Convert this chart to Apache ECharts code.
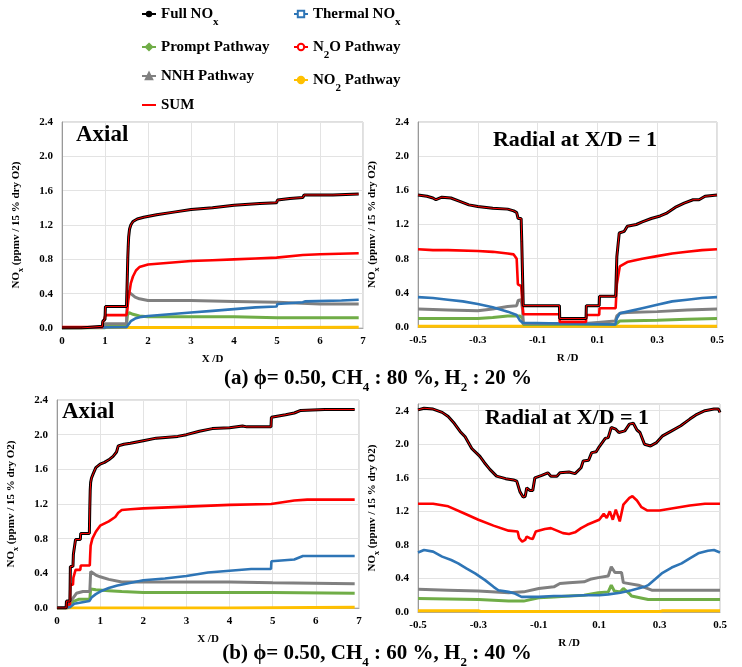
<!DOCTYPE html>
<html><head><meta charset="utf-8">
<script src="https://cdn.jsdelivr.net/npm/echarts@6/dist/echarts.min.js"></script>
<style>html,body{margin:0;padding:0;background:#fff}#c{width:742px;height:667px}</style>
</head><body><div id="c"></div>
<script>
// ---------- Data ----------
const seriesNames = ['Full NOx','Thermal NOx','Prompt Pathway','N2O Pathway','NNH Pathway','NO2 Pathway','SUM'];
const axialTicks = [0,1,2,3,4,5,6,7];
const radialTicks = [-0.5,-0.3,-0.1,0.1,0.3,0.5];
const yTicks = [0,0.4,0.8,1.2,1.6,2.0,2.4];

// (a) Axial
const fullA = [[0,0],[0.45,0],[0.46,0.02],[0.94,0.02],[0.95,0.08],[0.98,0.1],[1.0,0.1],[1.01,0.25],[1.5,0.25],[1.52,0.62],[1.53,0.82],[1.54,0.95],[1.55,1.06],[1.57,1.15],[1.6,1.2],[1.65,1.24],[1.75,1.27],[1.9,1.29],[2.2,1.32],[2.6,1.35],[3.0,1.38],[3.5,1.4],[4.0,1.43],[4.6,1.45],[4.99,1.46],[5.01,1.49],[5.3,1.51],[5.6,1.52],[5.63,1.55],[6.3,1.55],[6.9,1.56]];
const n2oA = [[0,0.01],[0.94,0.01],[0.95,0.06],[0.98,0.1],[1.0,0.1],[1.01,0.15],[1.5,0.15],[1.52,0.22],[1.54,0.32],[1.57,0.42],[1.6,0.52],[1.65,0.6],[1.72,0.67],[1.8,0.71],[2.0,0.74],[2.5,0.76],[3.0,0.78],[3.5,0.79],[4.0,0.8],[4.5,0.81],[4.99,0.82],[5.01,0.83],[5.6,0.85],[6.0,0.86],[6.9,0.87]];
const thermalA = [[0,0],[1.5,0.01],[1.52,0.03],[1.6,0.08],[1.7,0.11],[1.85,0.13],[2.0,0.14],[2.5,0.16],[3.0,0.18],[3.5,0.2],[4.0,0.22],[4.5,0.24],[4.99,0.25],[5.01,0.28],[5.6,0.3],[5.65,0.31],[6.5,0.32],[6.9,0.33]];
const promptA = [[0,0],[1.0,0],[1.01,0.03],[1.5,0.03],[1.52,0.15],[1.56,0.18],[1.65,0.16],[1.8,0.14],[2.0,0.13],[3.0,0.13],[4.0,0.13],[5.0,0.12],[6.9,0.12]];
const nnhA = [[0,0],[1.0,0.01],[1.01,0.05],[1.5,0.05],[1.52,0.43],[1.6,0.4],[1.7,0.36],[1.8,0.34],[2.0,0.32],[3.0,0.32],[4.0,0.31],[5.0,0.3],[6.0,0.28],[6.9,0.28]];
const no2A = [[0,0.005],[1.5,0.005],[3,0.006],[5,0.007],[6.9,0.008]];
const sumA = fullA;

// (a) Radial at X/D = 1
const fullAR = [[-0.5,1.545],[-0.47,1.53],[-0.45,1.51],[-0.44,1.49],[-0.42,1.52],[-0.39,1.51],[-0.36,1.47],[-0.33,1.43],[-0.3,1.41],[-0.25,1.39],[-0.2,1.38],[-0.18,1.36],[-0.17,1.34],[-0.165,1.27],[-0.155,1.27],[-0.153,1.0],[-0.149,1.0],[-0.148,0.25],[-0.027,0.25],[-0.026,0.1],[0.062,0.1],[0.063,0.25],[0.106,0.25],[0.107,0.36],[0.161,0.36],[0.165,0.82],[0.17,0.82],[0.173,1.1],[0.19,1.12],[0.2,1.18],[0.23,1.2],[0.25,1.23],[0.28,1.27],[0.31,1.3],[0.33,1.33],[0.36,1.4],[0.39,1.45],[0.42,1.49],[0.44,1.49],[0.46,1.53],[0.5,1.545]];
const n2oAR = [[-0.5,0.91],[-0.45,0.9],[-0.4,0.9],[-0.3,0.89],[-0.25,0.88],[-0.2,0.86],[-0.18,0.85],[-0.17,0.8],[-0.166,0.5],[-0.155,0.48],[-0.149,0.48],[-0.148,0.15],[-0.027,0.15],[-0.026,0.06],[0.062,0.06],[0.063,0.14],[0.106,0.14],[0.107,0.22],[0.161,0.22],[0.165,0.5],[0.17,0.5],[0.175,0.71],[0.2,0.76],[0.25,0.8],[0.3,0.83],[0.35,0.86],[0.4,0.88],[0.45,0.9],[0.5,0.91]];
const thermalAR = [[-0.5,0.35],[-0.45,0.34],[-0.4,0.32],[-0.35,0.3],[-0.3,0.27],[-0.25,0.23],[-0.2,0.18],[-0.17,0.14],[-0.16,0.08],[-0.15,0.05],[-0.148,0.03],[0.16,0.03],[0.165,0.1],[0.175,0.16],[0.2,0.18],[0.25,0.22],[0.3,0.26],[0.35,0.3],[0.4,0.32],[0.45,0.34],[0.5,0.35]];
const nnhAR = [[-0.5,0.21],[-0.4,0.2],[-0.3,0.19],[-0.25,0.21],[-0.2,0.24],[-0.17,0.25],[-0.165,0.31],[-0.155,0.32],[-0.15,0.2],[-0.148,0.04],[0.06,0.04],[0.063,0.06],[0.16,0.07],[0.165,0.13],[0.175,0.16],[0.2,0.17],[0.3,0.18],[0.4,0.2],[0.5,0.21]];
const promptAR = [[-0.5,0.1],[-0.3,0.1],[-0.25,0.11],[-0.2,0.13],[-0.16,0.13],[-0.15,0.1],[-0.148,0.03],[0.16,0.03],[0.165,0.05],[0.175,0.07],[0.3,0.08],[0.4,0.09],[0.5,0.1]];
const no2AR = [[-0.5,0.01],[0,0.01],[0.5,0.01]];
const sumAR = fullAR;

// (b) Axial
const fullB = [[0,0],[0.21,0],[0.22,0.08],[0.3,0.08],[0.31,0.48],[0.37,0.48],[0.38,0.62],[0.42,0.62],[0.43,0.79],[0.54,0.79],[0.55,0.86],[0.75,0.86],[0.76,1.15],[0.77,1.36],[0.78,1.45],[0.8,1.5],[0.84,1.55],[0.9,1.62],[1.0,1.66],[1.1,1.68],[1.2,1.71],[1.3,1.75],[1.38,1.8],[1.42,1.87],[1.55,1.89],[1.7,1.9],[2.0,1.93],[2.3,1.96],[2.8,1.98],[3.0,2.0],[3.3,2.04],[3.6,2.07],[4.0,2.08],[4.3,2.1],[4.4,2.09],[4.96,2.09],[4.97,2.2],[5.3,2.23],[5.5,2.25],[5.65,2.28],[6.2,2.29],[6.9,2.29]];
const n2oB = [[0,0],[0.22,0],[0.23,0.04],[0.3,0.04],[0.31,0.27],[0.37,0.27],[0.38,0.35],[0.42,0.35],[0.43,0.44],[0.54,0.44],[0.55,0.49],[0.76,0.49],[0.77,0.62],[0.78,0.72],[0.82,0.8],[0.9,0.88],[1.0,0.95],[1.2,1.0],[1.35,1.05],[1.42,1.1],[1.5,1.13],[1.7,1.14],[2.0,1.15],[3.0,1.17],[4.0,1.19],[4.96,1.2],[5.0,1.22],[5.5,1.24],[5.8,1.25],[6.9,1.25]];
const thermalB = [[0,0],[0.3,0.01],[0.4,0.05],[0.75,0.08],[0.8,0.12],[0.9,0.16],[1.0,0.19],[1.2,0.23],[1.4,0.26],[1.6,0.28],[2.0,0.32],[2.5,0.34],[3.0,0.37],[3.5,0.41],[4.0,0.43],[4.5,0.45],[4.96,0.45],[4.97,0.54],[5.5,0.56],[5.7,0.6],[6.9,0.6]];
const nnhB = [[0,0],[0.22,0],[0.25,0.05],[0.35,0.1],[0.45,0.17],[0.6,0.19],[0.76,0.19],[0.77,0.3],[0.78,0.42],[0.9,0.38],[1.0,0.36],[1.2,0.33],[1.5,0.3],[2.0,0.3],[3.0,0.3],[4.0,0.3],[5.0,0.29],[6.9,0.28]];
const promptB = [[0,0],[0.25,0],[0.3,0.05],[0.4,0.08],[0.5,0.1],[0.76,0.1],[0.78,0.22],[0.9,0.21],[1.2,0.2],[1.5,0.19],[2.0,0.18],[4.96,0.18],[5.0,0.17],[6.9,0.17]];
const no2B = [[0,0],[4.0,0],[4.02,0.01],[6.9,0.01]];
const sumB = fullB;

// (b) Radial at X/D = 1
const fullBR = [[-0.5,2.41],[-0.48,2.43],[-0.45,2.42],[-0.42,2.38],[-0.4,2.33],[-0.38,2.25],[-0.36,2.15],[-0.344,2.09],[-0.322,1.95],[-0.295,1.855],[-0.28,1.78],[-0.262,1.7],[-0.24,1.62],[-0.21,1.59],[-0.184,1.575],[-0.173,1.56],[-0.162,1.43],[-0.152,1.37],[-0.145,1.38],[-0.14,1.48],[-0.13,1.45],[-0.12,1.45],[-0.113,1.6],[-0.09,1.63],[-0.07,1.66],[-0.06,1.62],[-0.04,1.62],[-0.03,1.66],[0.0,1.67],[0.02,1.65],[0.04,1.72],[0.047,1.8],[0.065,1.81],[0.075,1.9],[0.09,1.91],[0.1,1.97],[0.12,2.07],[0.13,2.08],[0.14,2.2],[0.155,2.18],[0.165,2.14],[0.185,2.16],[0.2,2.24],[0.213,2.25],[0.225,2.17],[0.235,2.14],[0.25,2.0],[0.27,1.98],[0.29,2.02],[0.31,2.1],[0.34,2.16],[0.37,2.22],[0.4,2.3],[0.42,2.35],[0.45,2.4],[0.48,2.42],[0.495,2.42],[0.5,2.38]];
const n2oBR = [[-0.5,1.29],[-0.45,1.29],[-0.4,1.26],[-0.35,1.18],[-0.3,1.1],[-0.25,1.03],[-0.2,0.97],[-0.17,0.96],[-0.165,0.88],[-0.155,0.84],[-0.145,0.86],[-0.14,0.9],[-0.13,0.88],[-0.12,0.87],[-0.11,0.96],[-0.08,0.99],[-0.06,1.0],[-0.04,0.97],[-0.02,0.94],[0.0,0.93],[0.02,0.95],[0.04,1.0],[0.06,1.04],[0.08,1.07],[0.1,1.1],[0.115,1.17],[0.125,1.12],[0.135,1.2],[0.145,1.1],[0.155,1.22],[0.168,1.08],[0.18,1.28],[0.2,1.36],[0.21,1.38],[0.225,1.33],[0.24,1.25],[0.26,1.21],[0.3,1.21],[0.35,1.24],[0.4,1.27],[0.45,1.29],[0.5,1.29]];
const thermalBR = [[-0.5,0.71],[-0.48,0.74],[-0.45,0.72],[-0.42,0.66],[-0.39,0.62],[-0.367,0.58],[-0.34,0.52],[-0.311,0.46],[-0.278,0.38],[-0.25,0.3],[-0.234,0.26],[-0.2,0.24],[-0.179,0.22],[-0.157,0.18],[-0.1,0.18],[-0.05,0.19],[0.0,0.19],[0.05,0.2],[0.1,0.2],[0.13,0.21],[0.17,0.23],[0.207,0.26],[0.25,0.3],[0.262,0.32],[0.307,0.46],[0.34,0.53],[0.373,0.58],[0.4,0.64],[0.428,0.7],[0.46,0.73],[0.48,0.74],[0.5,0.71]];
const nnhBR = [[-0.5,0.27],[-0.4,0.26],[-0.3,0.25],[-0.2,0.23],[-0.15,0.24],[-0.1,0.28],[-0.05,0.3],[-0.03,0.34],[0.0,0.35],[0.05,0.36],[0.07,0.39],[0.097,0.41],[0.13,0.43],[0.14,0.54],[0.152,0.47],[0.174,0.47],[0.18,0.35],[0.23,0.32],[0.274,0.26],[0.35,0.26],[0.5,0.26]];
const promptBR = [[-0.5,0.16],[-0.3,0.15],[-0.2,0.13],[-0.15,0.13],[-0.1,0.17],[-0.05,0.18],[0.0,0.19],[0.05,0.2],[0.097,0.23],[0.13,0.24],[0.14,0.32],[0.15,0.25],[0.17,0.24],[0.18,0.28],[0.2,0.22],[0.207,0.19],[0.262,0.15],[0.35,0.15],[0.5,0.15]];
const no2BR = [[-0.5,0.015],[-0.3,0.015],[-0.29,0.005],[0.3,0.005],[0.31,0.015],[0.5,0.015]];
const sumBR = fullBR;

// ---------- Chart ----------
const FONT = '"Liberation Serif", "Times New Roman", serif';
const chart = echarts.init(document.getElementById('c'));

const ST = {
  'Full NOx':       {color:'#000000', width:3,   symbol:'circle',      size:5},
  'Thermal NOx':    {color:'#2E75B6', width:2.6, symbol:'emptyRect',   size:4},
  'Prompt Pathway': {color:'#70AD47', width:3,   symbol:'diamond',     size:6},
  'N2O Pathway':    {color:'#FF0000', width:2.6, symbol:'emptyCircle', size:4},
  'NNH Pathway':    {color:'#808080', width:3,   symbol:'triangle',    size:6},
  'NO2 Pathway':    {color:'#FFC000', width:3,   symbol:'circle',      size:6},
  'SUM':            {color:'#FF0000', width:1,   symbol:'none',        size:0}
};

const panels = [
  {'Full NOx':fullA,'Thermal NOx':thermalA,'Prompt Pathway':promptA,'N2O Pathway':n2oA,'NNH Pathway':nnhA,'NO2 Pathway':no2A,'SUM':sumA},
  {'Full NOx':fullAR,'Thermal NOx':thermalAR,'Prompt Pathway':promptAR,'N2O Pathway':n2oAR,'NNH Pathway':nnhAR,'NO2 Pathway':no2AR,'SUM':sumAR},
  {'Full NOx':fullB,'Thermal NOx':thermalB,'Prompt Pathway':promptB,'N2O Pathway':n2oB,'NNH Pathway':nnhB,'NO2 Pathway':no2B,'SUM':sumB},
  {'Full NOx':fullBR,'Thermal NOx':thermalBR,'Prompt Pathway':promptBR,'N2O Pathway':n2oBR,'NNH Pathway':nnhBR,'NO2 Pathway':no2BR,'SUM':sumBR}
];
const drawOrder = ['NO2 Pathway','Prompt Pathway','NNH Pathway','Thermal NOx','N2O Pathway','Full NOx','SUM'];

const grids = [
  {left:62,  top:122, width:301, height:206},
  {left:418, top:122, width:299, height:205},
  {left:57,  top:400, width:302, height:208},
  {left:418, top:404, width:302, height:208}
];
const yMax = [2.4, 2.4, 2.4, 2.48];
const isRadial = [false, true, false, true];

const labelStyle = {fontFamily:FONT, fontWeight:'bold', fontSize:11, color:'#000'};
const subRich = {s:{fontFamily:FONT, fontWeight:'bold', fontSize:8, color:'#000', verticalAlign:'bottom', lineHeight:11, padding:[0,0,-3,0]}};

const xAxes = grids.map((g,i) => ({
  type:'value', gridIndex:i,
  min: isRadial[i] ? radialTicks[0] : axialTicks[0],
  max: isRadial[i] ? radialTicks[radialTicks.length-1] : axialTicks[axialTicks.length-1],
  interval: isRadial[i] ? 0.2 : 1,
  name: isRadial[i] ? 'R /D' : 'X /D',
  nameLocation:'middle', nameGap: 26,
  nameTextStyle: labelStyle,
  axisLabel: Object.assign({margin:8, formatter: v => isRadial[i] ? v.toFixed(1) : String(Math.round(v))}, labelStyle),
  axisTick:{show:false},
  axisLine:{show:true, onZero:false, lineStyle:{color:'#a6a6a6', width:1}},
  splitLine:{show:true, lineStyle:{color:'#e3e3e3', width:1}}
}));
const yAxes = grids.map((g,i) => ({
  type:'value', gridIndex:i, min:yTicks[0], max:yMax[i], interval:0.4,
  name:'NO{s|x} (ppmv / 15 % dry O2)',
  nameLocation:'middle', nameGap: 40,
  nameTextStyle: Object.assign({rich:subRich}, labelStyle),
  axisLabel: Object.assign({margin:9, showMaxLabel: i===3 ? false : true, formatter: v => v.toFixed(1)}, labelStyle),
  axisTick:{show:false},
  axisLine:{show:true, onZero:false, lineStyle:{color:'#999999', width:1}},
  splitLine:{show:true, lineStyle:{color:'#e3e3e3', width:1}}
}));

const series = [];
panels.forEach((p, i) => {
  drawOrder.forEach(name => {
    const s = ST[name];
    series.push({
      type:'line', name, xAxisIndex:i, yAxisIndex:i, data:p[name],
      symbol:s.symbol, symbolSize:s.size, showSymbol:false,
      lineStyle:{color:s.color, width:s.width},
      itemStyle:{color:s.color, borderColor:s.color, borderWidth:1},
      emphasis:{disabled:true}, animation:false, z: 2
    });
  });
});

const legendFmt = {
  'Full NOx':'Full NO{s|x}', 'Thermal NOx':'Thermal NO{s|x}',
  'N2O Pathway':'N{s|2}O Pathway', 'NO2 Pathway':'NO{s|2} Pathway'
};
const legRich = {s:{fontFamily:FONT, fontWeight:'bold', fontSize:11, color:'#000', verticalAlign:'bottom', lineHeight:14, padding:[0,0,-4,0]}};
const legendBase = {
  orient:'vertical', top:-1, itemWidth:14, itemHeight:8, itemGap:9,
  textStyle:{fontFamily:FONT, fontWeight:'bold', fontSize:15, color:'#000', lineHeight:20, rich:legRich},
  formatter: n => legendFmt[n] || n, selectedMode:false
};

const capRich = {s:{fontFamily:FONT, fontWeight:'bold', fontSize:13, fill:'#000', verticalAlign:'bottom', lineHeight:16, padding:[0,0,-5,0]}};
function txt(text, x, y, size, align){
  return {type:'text', x, y, silent:true, z:100,
    style:{text, fill:'#000', fontFamily:FONT, fontWeight:'bold', fontSize:size,
           align: align || 'center', verticalAlign:'middle', rich:capRich}};
}

chart.setOption({
  backgroundColor:'#fff',
  animation:false,
  grid: grids.map(g => Object.assign({show:true, borderColor:'#bfbfbf', borderWidth:1, backgroundColor:'transparent'}, g)),
  xAxis: xAxes, yAxis: yAxes, series,
  legend:[
    Object.assign({left:136, data:[{name:'Full NOx', itemStyle:{borderWidth:0}},'Prompt Pathway','NNH Pathway',{name:'SUM', itemStyle:{opacity:0}}]}, legendBase),
    Object.assign({left:288, data:['Thermal NOx','N2O Pathway','NO2 Pathway']}, legendBase)
  ],
  graphic:[
    txt('(a) ϕ= 0.50, CH{s|4} : 80 %, H{s|2} : 20 %', 378, 379, 21),
    txt('(b) ϕ= 0.50, CH{s|4} : 60 %, H{s|2} : 40 %', 377, 654, 21),
    txt('Axial', 76, 135, 23, 'left'),
    txt('Radial at X/D = 1', 575, 140, 22),
    txt('Axial', 62, 412, 23, 'left'),
    txt('Radial at X/D = 1', 567, 418, 22)
  ]
});
</script></body></html>
